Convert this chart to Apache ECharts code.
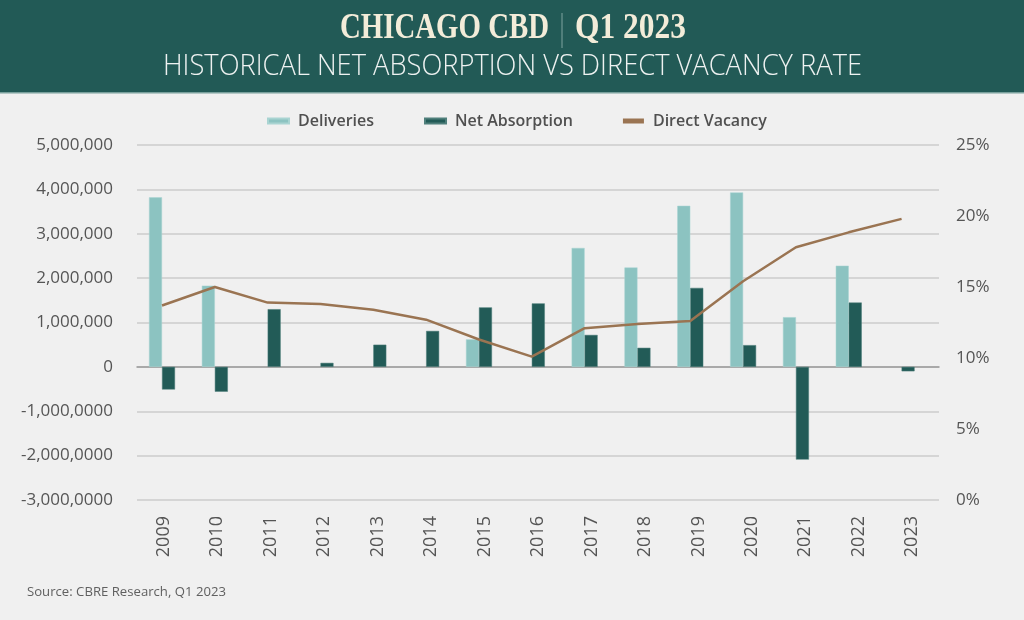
<!DOCTYPE html>
<html>
<head>
<meta charset="utf-8">
<script src="https://cdn.jsdelivr.net/npm/echarts@6/dist/echarts.min.js"></script>
<style>
html,body{margin:0;padding:0;background:#f0f0f0;}
#chart{width:1024px;height:620px;}
</style>
</head>
<body>
<div id="chart"></div>
<script>
const years = ['2009','2010','2011','2012','2013','2014','2015','2016','2017','2018','2019','2020','2021','2022','2023'];
const deliveries = [3820000, 1830000, null, null, null, null, 620000, null, 2680000, 2240000, 3630000, 3930000, 1120000, 2280000, null];
const netAbsorption = [-510000, -560000, 1300000, 90000, 500000, 810000, 1340000, 1430000, 720000, 430000, 1780000, 490000, -2090000, 1450000, -100000];
const directVacancy = [13.7, 15.0, 13.9, 13.8, 13.4, 12.7, 11.3, 10.1, 12.1, 12.4, 12.6, 15.4, 17.8, 18.85, 19.8];
const leftTickLabels = ['-3,000,0000','-2,000,0000','-1,000,0000','0','1,000,000','2,000,000','3,000,000','4,000,000','5,000,000'];
const rightTickLabels = ['0%','5%','10%','15%','20%','25%'];

const cnv = document.createElement('canvas').getContext('2d');
function fitScale(text, font, width) {
  cnv.font = font;
  return width / cnv.measureText(text).width;
}
const titleFont = 'bold 36px "Liberation Serif"';
const subFont = '300 30px "Open Sans"';
const srcFont = '13px "Open Sans"';

const chart = echarts.init(document.getElementById('chart'));
chart.setOption({
  backgroundColor: '#f0f0f0',
  animation: false,
  graphic: [
    { type: 'rect', left: 0, top: 0, shape: { width: 1024, height: 92 }, style: { fill: '#225a56' } },
    { type: 'rect', left: 0, top: 92, shape: { width: 1024, height: 1.5 }, style: { fill: '#79a09c' } },
    { type: 'text', x: 340, y: 29, scaleX: fitScale('CHICAGO CBD', titleFont, 209),
      style: { text: 'CHICAGO CBD', font: titleFont, fill: '#f3ecd9', textAlign: 'left', textVerticalAlign: 'middle' } },
    { type: 'line', shape: { x1: 562, y1: 13, x2: 562, y2: 48 }, style: { stroke: '#7fa39f', lineWidth: 1 } },
    { type: 'text', x: 575, y: 29, scaleX: fitScale('Q1 2023', titleFont, 111),
      style: { text: 'Q1 2023', font: titleFont, fill: '#f3ecd9', textAlign: 'left', textVerticalAlign: 'middle' } },
    { type: 'text', x: 163, y: 66, scaleX: fitScale('HISTORICAL NET ABSORPTION VS DIRECT VACANCY RATE', subFont, 699),
      style: { text: 'HISTORICAL NET ABSORPTION VS DIRECT VACANCY RATE', font: subFont, fill: '#eef2f1', textAlign: 'left', textVerticalAlign: 'middle' } },
    { type: 'text', x: 27, y: 592, scaleX: fitScale('Source: CBRE Research, Q1 2023', srcFont, 199),
      style: { text: 'Source: CBRE Research, Q1 2023', font: srcFont, fill: '#606060', textAlign: 'left', textVerticalAlign: 'middle' } }
  ],
  legend: {
    top: 108,
    left: 262,
    itemWidth: 21,
    itemHeight: 5,
    itemGap: 50,
    icon: 'rect',
    textStyle: { fontFamily: 'Open Sans', fontSize: 16, fontWeight: 600, color: '#505050', padding: [0, 0, 0, 4] },
    data: ['Deliveries', 'Net Absorption', 'Direct Vacancy']
  },
  grid: [
    { left: 137, right: 85, top: 145, bottom: 120, containLabel: false },
    { left: 135.6, right: 96, top: 145, bottom: 120, containLabel: false }
  ],
  xAxis: [
    {
      type: 'category', gridIndex: 0, data: years,
      axisLine: { onZero: true, lineStyle: { color: '#9a9a9a', width: 1.5 } },
      axisTick: { show: false },
      axisLabel: { rotate: 90, fontFamily: 'Open Sans', fontSize: 18, color: '#555', margin: 16, interval: 0, padding: [0, 0, 10, 0] }
    },
    {
      type: 'category', gridIndex: 1, data: years,
      axisLine: { show: false }, axisTick: { show: false }, axisLabel: { show: false }, splitLine: { show: false }
    }
  ],
  yAxis: [
    {
      type: 'value', gridIndex: 0, min: -3000000, max: 5000000, interval: 1000000,
      axisLine: { show: false }, axisTick: { show: false },
      splitLine: { lineStyle: { color: '#cdcdcd', width: 1.5 } },
      axisLabel: {
        fontFamily: 'Open Sans', fontSize: 17, color: '#555', margin: 24,
        formatter: function (v) { return leftTickLabels[Math.round((v + 3000000) / 1000000)]; }
      }
    },
    {
      type: 'value', gridIndex: 0, position: 'right', min: 0, max: 25, interval: 5,
      axisLine: { show: false }, axisTick: { show: false }, splitLine: { show: false },
      axisLabel: {
        fontFamily: 'Open Sans', fontSize: 17, color: '#555', margin: 17,
        formatter: function (v) { return rightTickLabels[Math.round(v / 5)]; }
      }
    },
    {
      type: 'value', gridIndex: 1, min: -3000000, max: 5000000, interval: 1000000, show: false,
      splitLine: { show: false }
    },
    {
      type: 'value', gridIndex: 1, position: 'right', min: 0, max: 25, interval: 5, show: false,
      splitLine: { show: false }
    }
  ],
  series: [
    { name: 'Deliveries', type: 'bar', xAxisIndex: 1, yAxisIndex: 2, data: deliveries, barWidth: 13, barGap: '0%',
      itemStyle: { color: '#8cc3c1', borderColor: '#a9d4d2', borderWidth: 0.5 } },
    { name: 'Net Absorption', type: 'bar', xAxisIndex: 1, yAxisIndex: 2, data: netAbsorption, barWidth: 13, barGap: '0%',
      itemStyle: { color: '#225b57', borderColor: '#4f7f7b', borderWidth: 0.5 } },
    { name: 'Direct Vacancy', type: 'line', xAxisIndex: 1, yAxisIndex: 3, data: directVacancy, symbol: 'none',
      itemStyle: { color: '#9a7452' }, lineStyle: { color: '#9a7452', width: 2.5 }, z: 3 }
  ]
});
</script>
</body>
</html>
